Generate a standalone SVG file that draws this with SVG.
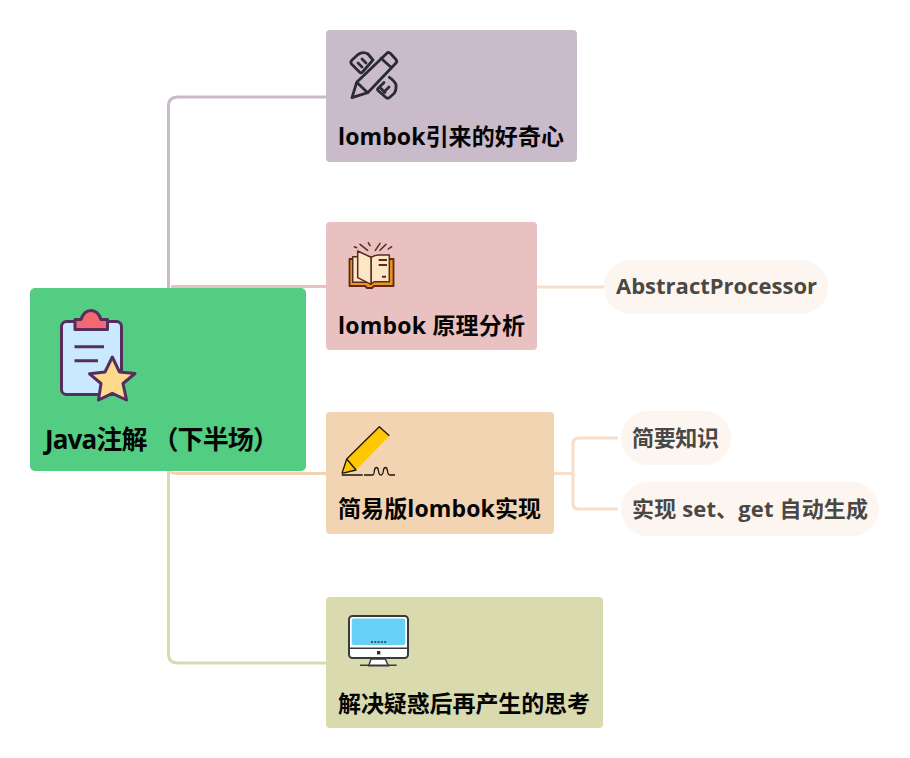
<svg xmlns="http://www.w3.org/2000/svg" width="910" height="758" viewBox="0 0 910 758">
<style>
text{font-family:"Open Sans","Noto Sans CJK SC",sans-serif;font-weight:700}
.m{font-size:23px;fill:#050505}
.s{font-size:22px;fill:#4a4844}
.c{fill:none;stroke-width:3}
.d{fill:none;stroke:#2b2b33;stroke-width:2.800;stroke-linejoin:round;stroke-linecap:round}
.b{fill:none;stroke:#5a2a1e;stroke-width:1.500;stroke-linecap:round}
.p{fill:#fde6c4;stroke:#5a2a1e;stroke-width:1.500;stroke-linejoin:round}
</style>
<rect width="910" height="758" fill="#fff"/>
<g id="connectors">
<path class="c" stroke="#c9bbca" d="M168.500 290V106Q168.500 97 178 97H326"/>
<path class="c" stroke="#e8c1c0" d="M171 286.500H326"/>
<path class="c" stroke="#f2d3b2" d="M170 471Q171 473.500 178 473.500H326"/>
<path class="c" stroke="#d9dbaf" d="M168.500 470V654Q168.500 663 178 663H326"/>
<path class="c" stroke="#f8dec8" d="M537 287H604"/>
<path class="c" stroke="#f8dec8" d="M554 473.500H573M618 438H579Q573 438 573 444V503Q573 509 579 509H618"/>
</g>
<g id="root">
<rect x="30" y="288" width="276" height="183" rx="5" fill="#52cd82"/>
<rect x="61.500" y="321.500" width="60" height="73" rx="5" fill="#cae9ff" stroke="#552e5f" stroke-width="3"/>
<path d="M75 329.500V319.500H81Q84 310.500 91 310.500Q98 310.500 101 319.500H107.500V329.500Z" fill="#f2696f" stroke="#552e5f" stroke-width="3" stroke-linejoin="round"/>
<path d="M74.500 346.700H104M74.500 360.700H98" stroke="#552e5f" stroke-width="3" fill="none"/>
<path d="M112.300 357L119.500 372L135 373.500L123 383.500L126.500 400L112.300 393.300L98.500 400L101 383.500L89.500 373.800L105 372Z" fill="#fdd98b" stroke="#552e5f" stroke-width="3" stroke-linejoin="round"/>
<text x="45" y="449" font-size="26" fill="#050505" textLength="234">Java注解 （下半场）</text>
</g>
<g id="n1">
<rect x="326" y="30" width="251" height="132" rx="4" fill="#c9bbca"/>
<path class="d" d="M387.700 52.500Q389 52 390.500 53.500L396 59.500Q397.500 61.500 396 63L367.700 92.700L352 97.700L356.700 82.300ZM356.700 82.300L367.700 92.700M381 58.300L391 67.300"/>
<path class="d" d="M373 60L362.500 72Q361 73.500 359.500 72L351.500 64Q350 62 352 60L358 54.500Q363 51 368 54ZM358 63L362 67M362 59L366 63"/>
<path class="d" d="M389.300 77.300Q395 81 396 85Q396.500 90 394.300 93.300L389.500 97.500Q387.700 99 386 97.500L378 90.500Q377 89.500 378 88.500L384 82.500M384 92L389 87M380.500 88L385 92.500"/>
<text class="m" x="338" y="145" textLength="226">lombok引来的好奇心</text>
</g>
<g id="n2">
<rect x="326" y="222" width="211" height="128" rx="4" fill="#e8c1c0"/>
<path d="M349.500 259H393.500V286H374L372 288H367L365 286H349.500Z" fill="#ef9320" stroke="#5a2a1e" stroke-width="1.800" stroke-linejoin="round"/>
<path class="p" d="M352.700 256.700H371V282.300H352.700Z"/>
<path class="p" d="M371 257.300Q376 254.500 380 255H389.300V281.700H374L371 284.300Z"/>
<path class="p" d="M357.700 251L371 257.300V284.300L357.700 277.700Z"/>
<path class="b" d="M354.300 246.700L356.700 247.700M360 244.300L367.700 250.300M368.300 242.700L370 245.700M375.300 250.300L380 243.300M380 250.300L386 244.300M388.300 249L391.700 246.700"/>
<path d="M378.700 260H387M378.700 265H387M382 276.700H386" stroke="#5a2a1e" stroke-width="2" fill="none"/>
<text class="m" x="338" y="334" textLength="187">lombok 原理分析</text>
</g>
<g id="n3">
<rect x="326" y="412" width="228" height="122" rx="4" fill="#f2d3b2"/>
<path d="M379.300 426.700L389.300 435.700L356 470L342 473.300L346.700 459Z" fill="#fec700"/>
<path d="M342 473.300L346.700 459L379.300 426.700L389.300 435.700M346.700 459L356 470L342 473.300" fill="none" stroke="#1a1408" stroke-width="1.300" stroke-linejoin="round"/>
<path d="M341.700 475H362.700M364 475H372.700Q374 475 374.500 470Q375 467.500 376.500 467.500Q378 467.500 378.500 471Q379 475 381 475Q383 475 383.500 470Q384 467.500 385.500 467.500Q387 467.500 387.500 471Q388 475 390 475H395" fill="none" stroke="#1a1408" stroke-width="1.300"/>
<text class="m" x="338" y="517" textLength="203">简易版lombok实现</text>
</g>
<g id="n4">
<rect x="326" y="597" width="277" height="131" rx="4" fill="#d9dbaf"/>
<rect x="349" y="616" width="59" height="42" rx="3.500" fill="#fff" stroke="#3a3a3a" stroke-width="2"/>
<rect x="351.700" y="618.400" width="53.600" height="26.600" rx="2" fill="#67d0f6"/>
<path d="M349 648.300H408" stroke="#3a3a3a" stroke-width="1.500"/>
<path d="M371 659L368.700 665.700H388.300L385.300 659Z" fill="#fff" stroke="#3a3a3a" stroke-width="1.500"/>
<path d="M360 665.200H396.700" stroke="#3a3a3a" stroke-width="1.500"/>
<rect x="377" y="651" width="3.300" height="3.500" fill="#333"/>
<path d="M371 642H386.700" stroke="#3a5a70" stroke-width="2" stroke-dasharray="2 1.300"/>
<text class="m" x="338" y="712" textLength="252">解决疑惑后再产生的思考</text>
</g>
<g id="s1">
<rect x="604" y="260" width="224" height="54" rx="27" fill="#fdf5ef"/>
<text class="s" x="616" y="294" textLength="201">AbstractProcessor</text>
</g>
<g id="s2">
<rect x="621" y="411" width="110" height="54" rx="27" fill="#fdf5ef"/>
<text class="s" x="632" y="446" textLength="87">简要知识</text>
</g>
<g id="s3">
<rect x="621" y="482" width="258" height="54" rx="27" fill="#fdf5ef"/>
<text class="s" x="632" y="517" textLength="236">实现 set、get 自动生成</text>
</g>
</svg>
